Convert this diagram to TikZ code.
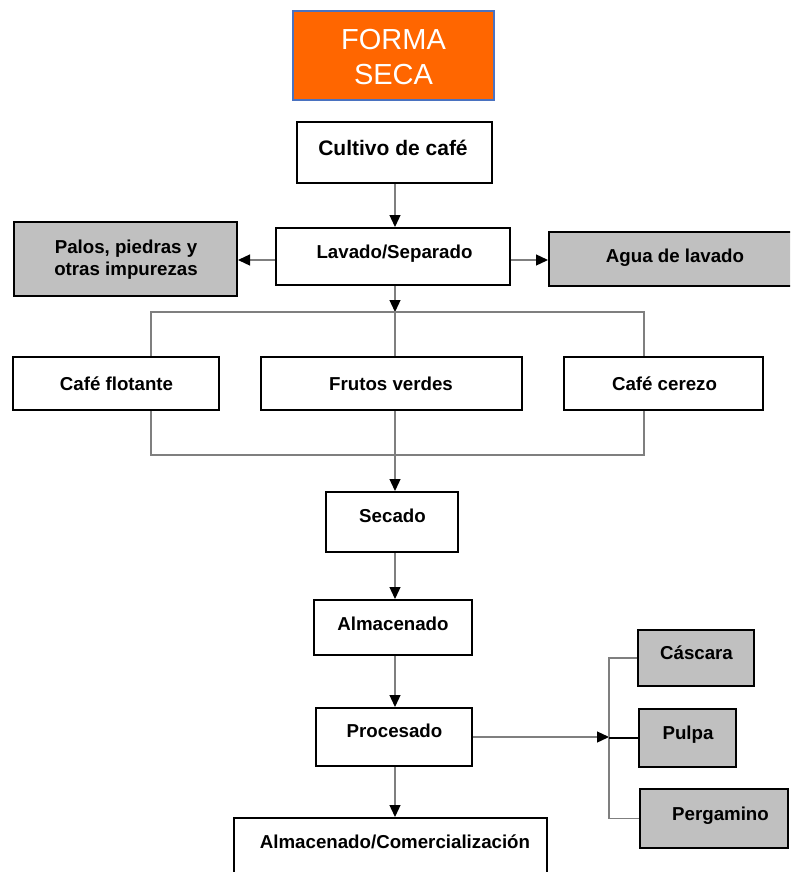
\documentclass[tikz,border=0pt]{standalone}
\usepackage{fontspec}
\setmainfont{Liberation Sans}
\usetikzlibrary{arrows.meta}
\definecolor{formaorange}{HTML}{FF6600}
\definecolor{formaedge}{HTML}{4A72C0}
\definecolor{wire}{HTML}{7F7F7F}
\definecolor{boxgray}{HTML}{C0C0C0}
\tikzset{
  box/.style={draw=black, line width=2pt, fill=white, inner sep=0pt},
  graybox/.style={box, fill=boxgray},
  lbl/.style={font=\fontsize{18.7}{23}\selectfont\bfseries, inner sep=0pt, anchor=base},
  wireline/.style={draw=wire, line width=1.3pt},
  flow/.style={wireline, -{Triangle[length=12pt,width=11pt,color=black]}},
  titletext/.style={font=\fontsize{29}{35}\selectfont, text=white, inner sep=0pt, anchor=base},
}
\begin{document}
\begin{tikzpicture}[x=1pt,y=-1pt]
\useasboundingbox (0,0) rectangle (790,872);
\clip (0,0) rectangle (790,872);

% title
\node[draw=formaedge, line width=1.5pt, fill=formaorange, minimum width=201pt, minimum height=89pt, inner sep=0pt] (forma) at (393.5,55.5) {};
\node[titletext] (formaA) at (393.5,50) {FORMA};
\node[titletext] (formaB) at (393.5,85) {SECA};

% process boxes
\node[box, minimum width=195pt, minimum height=61pt] (cultivo) at (394.5,152.5) {};
\node[box, minimum width=234pt, minimum height=57pt] (lavado) at (393,256.5) {};
\node[graybox, minimum width=223pt, minimum height=74pt] (palos) at (125.5,259) {};
\node[graybox, minimum width=251pt, minimum height=54pt] (agua) at (674.5,259) {};
\node[box, minimum width=206pt, minimum height=53pt] (flotante) at (116,383.5) {};
\node[box, minimum width=261pt, minimum height=53pt] (frutos) at (391.5,383.5) {};
\node[box, minimum width=199pt, minimum height=53pt] (cerezo) at (663.5,383.5) {};
\node[box, minimum width=132pt, minimum height=60pt] (secado) at (392,522) {};
\node[box, minimum width=158pt, minimum height=55pt] (almacen) at (393,627.5) {};
\node[box, minimum width=156pt, minimum height=58pt] (procesado) at (394,737) {};
\node[graybox, minimum width=116pt, minimum height=56pt] (cascara) at (696,658) {};
\node[graybox, minimum width=97pt, minimum height=58pt] (pulpa) at (687.5,738) {};
\node[graybox, minimum width=148pt, minimum height=59pt] (pergamino) at (714,818.5) {};
\node[box, minimum width=313pt, minimum height=72pt] (comercio) at (390.5,854) {};

% labels
\node[lbl, font=\fontsize{21}{25}\selectfont\bfseries] (cultivoT) at (393,155) {Cultivo de café};
\node[lbl] (lavadoT) at (394.5,258) {Lavado/Separado};
\node[lbl] (palosA) at (126,253) {Palos, piedras y};
\node[lbl] (palosB) at (126,275) {otras impurezas};
\node[lbl] (aguaT) at (675,262) {Agua de lavado};
\node[lbl] (flotanteT) at (116.5,390) {Café flotante};
\node[lbl] (frutosT) at (391,390) {Frutos verdes};
\node[lbl] (cerezoT) at (664.5,390) {Café cerezo};
\node[lbl] (secadoT) at (392.5,522) {Secado};
\node[lbl] (almacenT) at (393,630) {Almacenado};
\node[lbl] (procesadoT) at (394.5,737) {Procesado};
\node[lbl] (comercioT) at (395,848) {Almacenado/Comercialización};
\node[lbl] (cascaraT) at (696.5,659) {Cáscara};
\node[lbl] (pulpaT) at (688,739) {Pulpa};
\node[lbl] (pergaminoT) at (720.5,820) {Pergamino};

% routing guides
\coordinate (trunk) at (395,0);
\coordinate (sideY) at (0,260);
\coordinate (splitL) at (151,312);
\coordinate (splitR) at (644,312);
\coordinate (joinL) at (151,455);
\coordinate (joinR) at (644,455);
\coordinate (bus) at (609,0);

% main line
\draw[flow] (cultivo.south -| trunk) -- (lavado.north -| trunk);
\draw[flow] (lavado.west |- sideY) -- (palos.east |- sideY);
\draw[flow] (lavado.east |- sideY) -- (agua.west |- sideY);
\draw[flow] (lavado.south -| trunk) -- (trunk |- splitL);

% split into the three fractions
\draw[wireline] (flotante.north -| splitL) -- (splitL) -- (splitR) -- (cerezo.north -| splitR);
\draw[wireline] (trunk |- splitL) -- (frutos.north -| trunk);

% rejoin
\draw[wireline] (flotante.south -| joinL) -- (joinL) -- (joinR) -- (cerezo.south -| joinR);
\draw[flow] (frutos.south -| trunk) -- (secado.north -| trunk);

\draw[flow] (secado.south -| trunk) -- (almacen.north -| trunk);
\draw[flow] (almacen.south -| trunk) -- (procesado.north -| trunk);
\draw[flow] (procesado.south -| trunk) -- (comercio.north -| trunk);

% by-products
\draw[flow] (procesado.east) -- (procesado.east -| bus);
\draw[wireline] (cascara.west) -- (cascara.west -| bus) -- (pergamino.west -| bus) -- (pergamino.west);
\draw[draw=black, line width=1.6pt] (pulpa.west -| bus) -- (pulpa.west);
\end{tikzpicture}
\end{document}
